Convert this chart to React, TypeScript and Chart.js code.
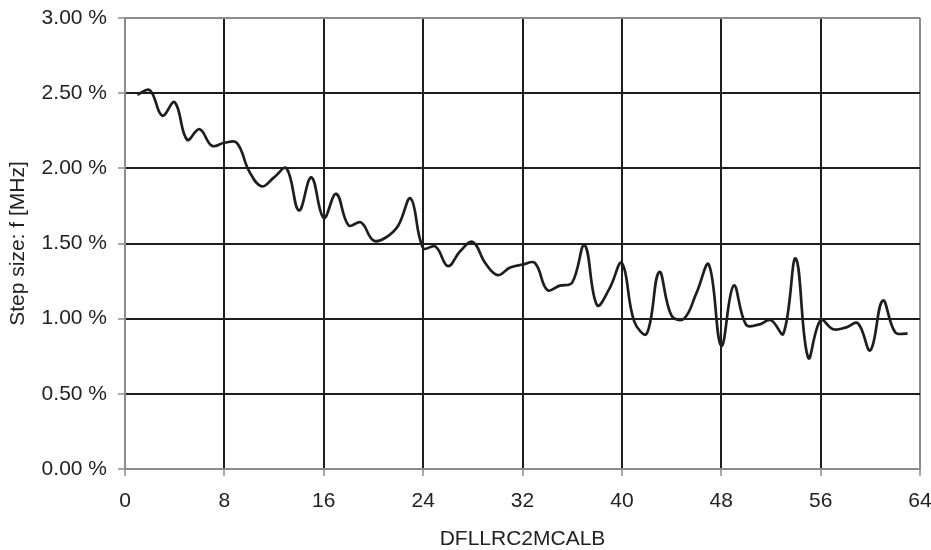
import { useEffect, useRef } from "react";
import { Chart, registerables } from "chart.js";

Chart.register(...registerables);

// x positions (DFLLRC2MCALB code)
const codes: number[] = [
  1, 2, 3, 4, 5, 6, 7, 8, 9, 10, 11, 12, 13, 14, 15, 16, 17, 18, 19, 20, 21,
  22, 23, 24, 25, 26, 27, 28, 29, 30, 31, 32, 33, 34, 35, 36, 37, 38, 39, 40,
  41, 42, 43, 44, 45, 46, 47, 48, 49, 50, 51, 52, 53, 54, 55, 56, 57, 58, 59,
  60, 61, 62, 63,
];

// step size in percent
const stepSize: number[] = [
  2.49, 2.52, 2.35, 2.44, 2.19, 2.26, 2.15, 2.17, 2.17, 1.98, 1.88, 1.94, 2.0,
  1.72, 1.94, 1.67, 1.83, 1.62, 1.64, 1.52, 1.54, 1.62, 1.8, 1.47, 1.48, 1.35,
  1.45, 1.51, 1.37, 1.29, 1.34, 1.36, 1.37, 1.19, 1.22, 1.24, 1.49, 1.09, 1.2,
  1.37, 0.98, 0.9, 1.31, 1.02, 1.0, 1.17, 1.36, 0.82, 1.22, 0.96, 0.96, 0.99,
  0.9, 1.4, 0.74, 0.99, 0.93, 0.94, 0.97, 0.79, 1.12, 0.91, 0.9,
];

const xTickValues: number[] = [0, 8, 16, 24, 32, 40, 48, 56, 64];
const yTickValues: number[] = [0, 0.5, 1.0, 1.5, 2.0, 2.5, 3.0];

const xTitle = "DFLLRC2MCALB";
const yTitle = "Step size: f [MHz]";

const FONT = "'Liberation Sans', Arial, sans-serif";
const GRAY = "#8c8c8c";
const BLACK = "#1e1e1e";
const TEXT = "#222222";

export default function App() {
  const canvasRef = useRef<HTMLCanvasElement | null>(null);

  useEffect(() => {
    const canvas = canvasRef.current;
    if (!canvas) return;
    const xMin = xTickValues[0];
    const xMax = xTickValues[xTickValues.length - 1];
    const yMin = yTickValues[0];
    const yMax = yTickValues[yTickValues.length - 1];

    const chart = new Chart(canvas, {
      type: "line",
      data: {
        datasets: [
          {
            data: codes.map((c, i) => ({ x: c, y: stepSize[i] })),
            borderColor: BLACK,
            borderWidth: 2.7,
            pointRadius: 0,
            tension: 0.4,
            fill: false,
          },
        ],
      },
      options: {
        animation: false,
        responsive: false,
        layout: { padding: { top: 18, right: 11, left: 0, bottom: 0 } },
        plugins: {
          legend: { display: false },
          tooltip: { enabled: false },
        },
        scales: {
          x: {
            type: "linear",
            min: xMin,
            max: xMax,
            afterBuildTicks: (scale: any) => {
              scale.ticks = xTickValues.map((v) => ({ value: v }));
            },
            afterFit: (scale: any) => {
              scale.height = 81;
              scale.paddingLeft = 0;
              scale.paddingRight = 0;
            },
            ticks: {
              color: TEXT,
              font: { family: FONT, size: 21 },
              padding: 13,
              maxRotation: 0,
              autoSkip: false,
            },
            grid: {
              color: (ctx: any) =>
                ctx.tick && (ctx.tick.value === xMin || ctx.tick.value === xMax)
                  ? GRAY
                  : BLACK,
              lineWidth: 2,
              tickColor: GRAY,
              tickLength: 7,
              tickWidth: 1.5,
            },
            border: { display: true, color: GRAY, width: 2 },
            title: {
              display: true,
              text: xTitle,
              color: TEXT,
              font: { family: FONT, size: 21, lineHeight: 1 },
              padding: { top: 4, bottom: 0 },
            },
          },
          y: {
            type: "linear",
            min: yMin,
            max: yMax,
            afterBuildTicks: (scale: any) => {
              scale.ticks = yTickValues.map((v) => ({ value: v }));
            },
            afterFit: (scale: any) => {
              scale.width = 125;
              scale.paddingTop = 0;
              scale.paddingBottom = 0;
            },
            ticks: {
              color: TEXT,
              font: { family: FONT, size: 21 },
              padding: 11,
              callback: (v: any) => Number(v).toFixed(2) + " %",
            },
            grid: {
              color: (ctx: any) =>
                ctx.tick && (ctx.tick.value === yMin || ctx.tick.value === yMax)
                  ? GRAY
                  : BLACK,
              lineWidth: 2,
              tickColor: GRAY,
              tickLength: 7,
              tickWidth: 1.5,
            },
            border: { display: true, color: GRAY, width: 2 },
            title: {
              display: true,
              text: yTitle,
              color: TEXT,
              font: { family: FONT, size: 21, lineHeight: 1.2 },
              padding: { top: 6, bottom: 0 },
            },
          },
        },
      },
    });
    return () => chart.destroy();
  }, []);

  return (
    <div style={{ position: "fixed", left: 0, top: 0, width: 931, height: 550, background: "#fff" }}>
      <canvas ref={canvasRef} width={931} height={550} />
    </div>
  );
}
